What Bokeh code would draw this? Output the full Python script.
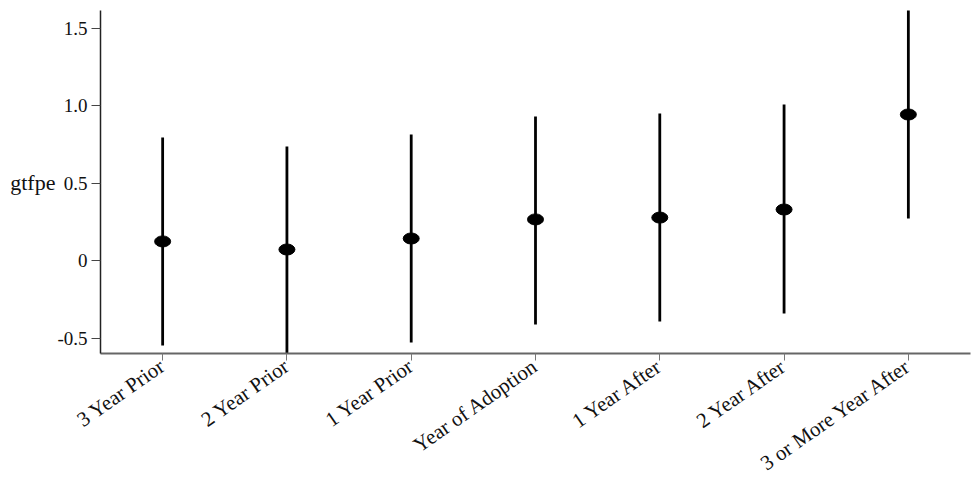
import math
from bokeh.plotting import figure
from bokeh.models import Range1d, FixedTicker, CustomJSTickFormatter, ColumnDataSource
from bokeh.embed import file_html
from bokeh.resources import INLINE

categories = ["3 Year Prior", "2 Year Prior", "1 Year Prior", "Year of Adoption",
              "1 Year After", "2 Year After", "3 or More Year After"]
estimate = [0.123, 0.071, 0.142, 0.265, 0.277, 0.329, 0.942]
ci_lower = [-0.548, -0.62, -0.529, -0.413, -0.394, -0.342, 0.271]
ci_upper = [0.794, 0.735, 0.813, 0.929, 0.948, 1.006, 1.65]
y_ticks = [-0.5, 0, 0.5, 1.0, 1.5]

xpos = list(range(len(categories)))
src = ColumnDataSource(dict(x=xpos, est=estimate, lo=ci_lower, hi=ci_upper))

FONT = "Liberation Serif"

p = figure(frame_width=870, frame_height=343, output_backend="svg", toolbar_location=None,
           x_range=Range1d(-0.5, 6.5), y_range=Range1d(-0.6, 1.613),
           min_border_left=100, min_border_top=10, min_border_right=6, min_border_bottom=0)
p.outline_line_color = None
p.xgrid.visible = False
p.ygrid.visible = False
p.background_fill_color = "white"
p.border_fill_color = "white"

p.segment(x0="x", y0="lo", x1="x", y1="hi", source=src, line_color="black", line_width=2.8)
p.ellipse(x="x", y="est", width=16, height=11, width_units="screen", height_units="screen",
          source=src, fill_color="black", line_color="black")

# x axis
p.xaxis.ticker = FixedTicker(ticks=xpos)
p.xaxis.formatter = CustomJSTickFormatter(args=dict(labels=categories),
                                          code="return labels[Math.round(tick)];")
p.xaxis.major_label_orientation = 0.61
p.xaxis.major_label_text_font = FONT
p.xaxis.major_label_text_font_size = "21px"
p.xaxis.major_label_text_color = "#111111"
p.xaxis.major_label_standoff = 3
p.xaxis.axis_line_color = "#666666"
p.xaxis.axis_line_width = 2
p.xaxis.major_tick_line_color = "#777777"
p.xaxis.major_tick_in = 0
p.xaxis.major_tick_out = 7
p.xaxis.minor_tick_line_color = None

# y axis
p.yaxis.ticker = FixedTicker(ticks=y_ticks)
p.yaxis.formatter = CustomJSTickFormatter(code="return tick == 0 ? '0' : tick.toFixed(1);")
p.yaxis.major_label_text_font = FONT
p.yaxis.major_label_text_font_size = "19px"
p.yaxis.major_label_text_color = "#111111"
p.yaxis.major_label_standoff = 4
p.yaxis.axis_line_color = "#222222"
p.yaxis.axis_line_width = 1.5
p.yaxis.major_tick_line_color = "#444444"
p.yaxis.major_tick_in = 0
p.yaxis.major_tick_out = 9
p.yaxis.minor_tick_line_color = None
p.yaxis.axis_label = "gtfpe"
p.yaxis.axis_label_orientation = "horizontal"
p.yaxis.axis_label_text_font = FONT
p.yaxis.axis_label_text_font_size = "22px"
p.yaxis.axis_label_text_font_style = "normal"
p.yaxis.axis_label_text_color = "#111111"
p.yaxis.axis_label_standoff = -1

open("out.html", "w").write(file_html(p, INLINE))
